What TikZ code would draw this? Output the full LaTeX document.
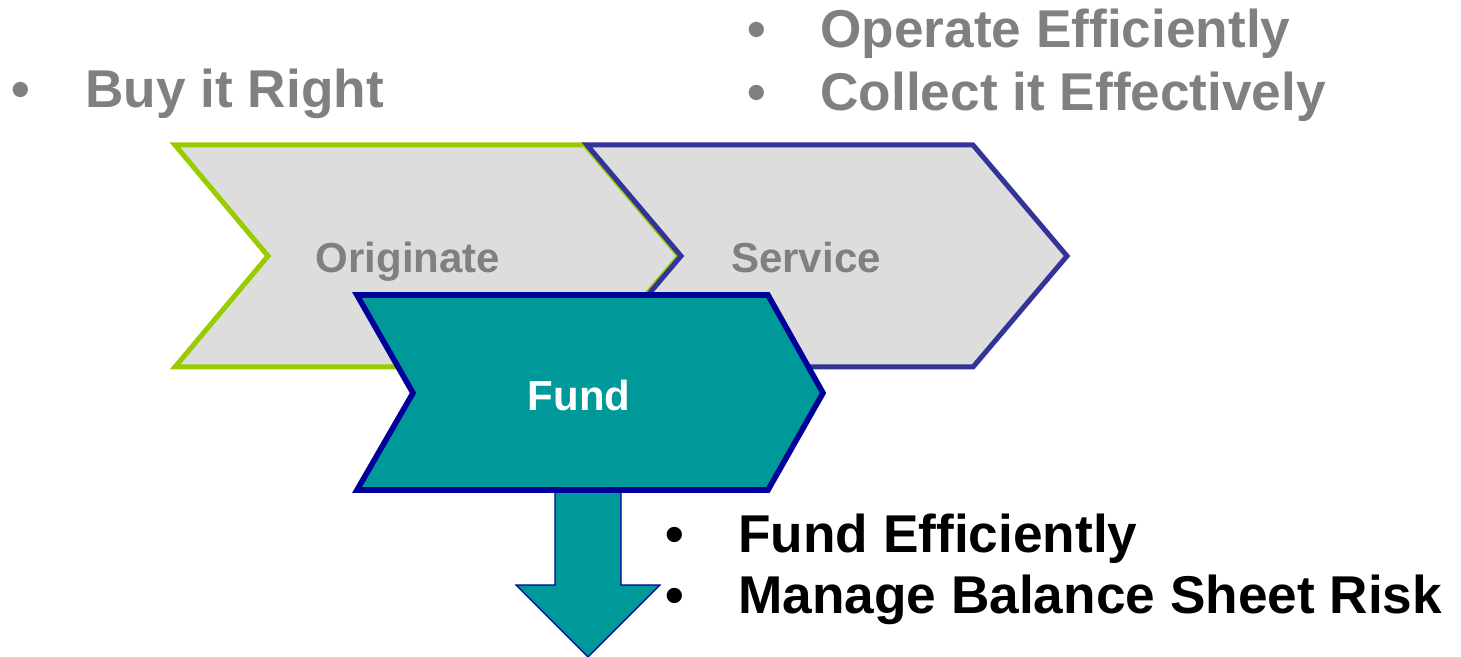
\documentclass[tikz,border=0pt]{standalone}
\usepackage{fontspec}
\setmainfont{Liberation Sans}
\definecolor{chgray}{HTML}{DDDDDD}
\definecolor{txtgray}{HTML}{808080}
\definecolor{lgreen}{HTML}{99CC00}
\definecolor{svcblue}{HTML}{333399}
\definecolor{navy}{HTML}{000099}
\definecolor{teal}{HTML}{009999}
\tikzset{
  bigtxt/.style={font=\fontsize{26.6}{32}\selectfont\bfseries, inner sep=0pt, anchor=base west},
  bul/.style={font=\fontsize{26.6}{32}\selectfont\bfseries, inner sep=0pt, anchor=base},
  lbl/.style={font=\fontsize{21}{25}\selectfont\bfseries, inner sep=0pt, anchor=base},
}
\begin{document}
\begin{tikzpicture}[x=0.5pt,y=-0.5pt]
\useasboundingbox (0,0) rectangle (1461,657);
% Originate chevron
\draw[line width=2.5pt, draw=lgreen, fill=chgray, line join=miter]
  (175,145) -- (585,145) -- (679,256) -- (585,367) -- (175,367) -- (268,256) -- cycle;
% Service chevron
\draw[line width=2.5pt, draw=svcblue, fill=chgray, line join=miter]
  (587,145) -- (973,145) -- (1067,256) -- (973,367) -- (587,367) -- (681,256) -- cycle;
\node[lbl, text=txtgray] (orig) at (408,273) {Originate};
\node[lbl, text=txtgray] (serv) at (806,273) {Service};
% down arrow
\draw[line width=0.6pt, draw=navy, fill=teal, line join=miter]
  (555,490) -- (555,585) -- (516,585) -- (588,657) -- (660,585) -- (621,585) -- (621,490) -- cycle;
% Fund chevron
\draw[line width=2.8pt, draw=navy, fill=teal, line join=miter]
  (357,295) -- (768,295) -- (823,393) -- (768,490) -- (357,490) -- (413,393) -- cycle;
\node[lbl, text=white] (fund) at (579,410) {Fund};
% bullet texts
\node[bul, text=txtgray] (b1) at (21,108) {•};
\node[bigtxt, text=txtgray] (t1) at (85,108) {Buy it Right};
\node[bul, text=txtgray] (b2) at (757,48) {•};
\node[bigtxt, text=txtgray] (t2) at (820,48) {Operate Efficiently};
\node[bul, text=txtgray] (b3) at (757,111) {•};
\node[bigtxt, text=txtgray] (t3) at (820,111) {Collect it Effectively};
\node[bul, text=black] (b4) at (675,552) {•};
\node[bigtxt, text=black] (t4) at (738,552) {Fund Efficiently};
\node[bul, text=black] (b5) at (675,613) {•};
\node[bigtxt, text=black] (t5) at (738,613) {Manage Balance Sheet Risk};
\end{tikzpicture}
\end{document}
